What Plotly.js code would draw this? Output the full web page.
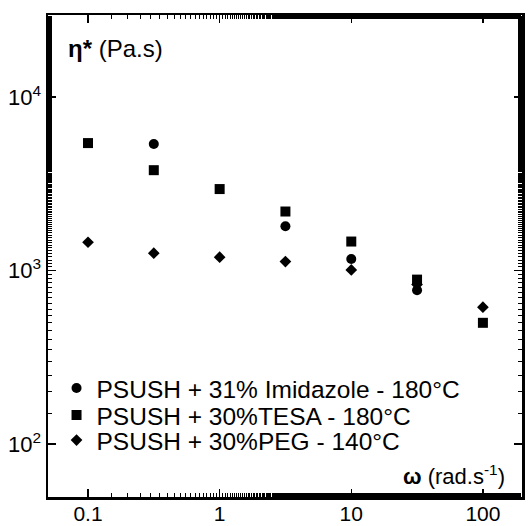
<!DOCTYPE html>
<html><head><meta charset="utf-8">
<script src="https://cdn.plot.ly/plotly-3.0.1.min.js"></script>
<style>html,body{margin:0;padding:0;background:#fff}#c{width:529px;height:526px}</style>
</head><body><div id="c"></div>
<script>
const imidW = [0.316, 3.16, 10, 31.6];
const imidEta = [5360, 1800, 1167, 770];
const tesaW = [0.1, 0.316, 1, 3.16, 10, 31.6, 100];
const tesaEta = [5430, 3790, 2950, 2190, 1470, 887, 500];
const pegW = [0.1, 0.316, 1, 3.16, 10, 31.6, 100];
const pegEta = [1456, 1259, 1194, 1127, 1009, 830, 615];
const names = ["PSUSH + 31% Imidazole - 180°C", "PSUSH + 30%TESA - 180°C", "PSUSH + 30%PEG - 140°C"];
const xTickVals = [0.1, 1, 10, 100];
const xTickText = ["0.1", "1", "10", "100"];
const yTickVals = [100, 1000, 10000];
const yTickText = ["10<sup>2</sup>", "10<sup>3</sup>", "10<sup>4</sup>"];

const F = "Arial, 'Liberation Sans', sans-serif";
const traces = [
  {x: imidW, y: imidEta, name: names[0], mode: 'markers', type: 'scatter', legend: 'legend',
   marker: {symbol: 'circle', size: 10, color: '#000'}},
  {x: tesaW, y: tesaEta, name: names[1], mode: 'markers', type: 'scatter', legend: 'legend2',
   marker: {symbol: 'square', size: 10, color: '#000'}},
  {x: pegW, y: pegEta, name: names[2], mode: 'markers', type: 'scatter', legend: 'legend3',
   marker: {symbol: 'diamond', size: 9, color: '#000'}}
];
const axisCommon = {
  type: 'log', showgrid: false, zeroline: false, showline: true, linewidth: 2.5,
  linecolor: '#000', mirror: 'ticks', ticks: 'inside', ticklen: 8, tickwidth: 1.5,
  tickcolor: '#000',
  minor: {ticks: 'inside', ticklen: 4, tickwidth: 1, tickcolor: '#000', showgrid: false}
};
const legFont = {family: F, size: 24.5, color: '#000'};
const legCommon = {x: 0.018, xanchor: 'left', yanchor: 'middle', bgcolor: 'rgba(0,0,0,0)',
  font: legFont, itemsizing: 'trace'};
const layout = {
  width: 529, height: 526, margin: {l: 48, r: 7, t: 15, b: 29},
  paper_bgcolor: '#fff', plot_bgcolor: '#fff', font: {family: F, color: '#000'},
  xaxis: Object.assign({}, axisCommon, {range: [-1.304, 2.297], tickmode: 'array',
    tickvals: xTickVals, ticktext: xTickText, ticklabelstandoff: -4,
    tickfont: {family: F, size: 21, color: '#000'}}),
  yaxis: Object.assign({}, axisCommon, {range: [1.695, 4.473], tickmode: 'array',
    tickvals: yTickVals, ticktext: yTickText,
    tickfont: {family: F, size: 22, color: '#000'}}),
  showlegend: true,
  legend: Object.assign({}, legCommon, {y: 0.226}),
  legend2: Object.assign({}, legCommon, {y: 0.170}),
  legend3: Object.assign({}, legCommon, {y: 0.118}),
  annotations: [
    {xref: 'paper', yref: 'paper', x: 0.038, y: 0.93, xanchor: 'left', yanchor: 'middle',
     showarrow: false, text: '<b>η*</b> (Pa.s)', font: {family: F, size: 24, color: '#000'}},
    {xref: 'paper', yref: 'paper', x: 0.968, y: 0.046, xanchor: 'right', yanchor: 'middle',
     showarrow: false, text: '<b>ω</b> (rad.s<sup>-1</sup>)', font: {family: F, size: 22, color: '#000'}}
  ]
};
Plotly.newPlot('c', traces, layout, {displayModeBar: false, staticPlot: true});
</script></body></html>
